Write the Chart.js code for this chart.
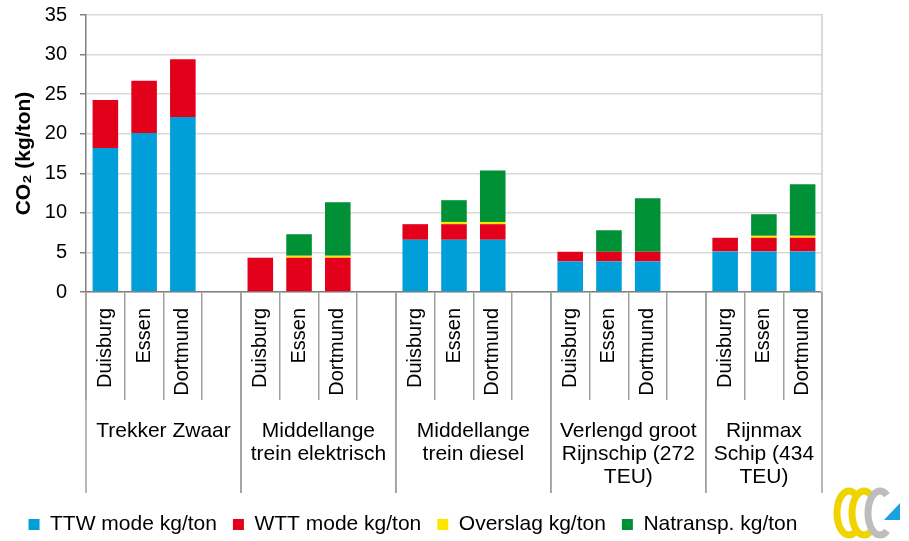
<!DOCTYPE html>
<html><head><meta charset="utf-8">
<script src="https://cdn.jsdelivr.net/npm/chart.js@4"></script>
<style>html,body{margin:0;padding:0;background:#fff}</style>
</head><body>
<canvas id="c" width="909" height="541"></canvas>
<script>
// ---- data ----
const categories = ['Duisburg','Essen','Dortmund','',
                    'Duisburg','Essen','Dortmund','',
                    'Duisburg','Essen','Dortmund','',
                    'Duisburg','Essen','Dortmund','',
                    'Duisburg','Essen','Dortmund'];
const groupLabels = [['Trekker Zwaar'],
                     ['Middellange','trein elektrisch'],
                     ['Middellange','trein diesel'],
                     ['Verlengd groot','Rijnschip (272','TEU)'],
                     ['Rijnmax','Schip (434','TEU)']];
const groupStart = [0,4,8,12,16];
const groupEnd   = [3,7,11,15,18];
const seriesNames = ['TTW mode kg/ton','WTT mode kg/ton','Overslag kg/ton','Natransp. kg/ton'];
const ttw      = [18.2,20.1,22.1,null, 0,0,0,null, 6.6,6.6,6.6,null, 3.87,3.87,3.87,null, 5.13,5.13,5.13];
const wtt      = [6.05,6.6,7.3,null, 4.33,4.33,4.33,null, 1.97,1.97,1.97,null, 1.21,1.21,1.21,null, 1.72,1.72,1.72];
const overslag = [0,0,0,null, 0,0.25,0.25,null, 0,0.28,0.28,null, 0,0,0,null, 0,0.25,0.25];
const natransp = [0,0,0,null, 0,2.72,6.77,null, 0,2.75,6.5,null, 0,2.72,6.77,null, 0,2.73,6.5];
const yMin = 0, yMax = 35, yStep = 5;
const colors = ['#009fda','#e2001a','#ffe600','#009036'];

const FONT = 'Liberation Sans, Arial, sans-serif';

const decor = {
  id: 'decor',
  beforeInit(chart) {
    const lg = chart.legend;
    if (lg) {
      const f = lg.fit;
      lg.fit = function() { f.call(this); this.height = 43; };
    }
  },
  afterDraw(chart) {
    const ctx = chart.ctx, ca = chart.chartArea, xs = chart.scales.x;
    const slot = xs.getPixelForValue(1) - xs.getPixelForValue(0);
    ctx.save();
    // right border
    ctx.strokeStyle = '#d9d9d9'; ctx.lineWidth = 2;
    ctx.beginPath(); ctx.moveTo(ca.right, ca.top - 1); ctx.lineTo(ca.right, ca.bottom); ctx.stroke();
    // city labels
    ctx.fillStyle = '#000';
    ctx.font = '20px ' + FONT;
    ctx.textAlign = 'right'; ctx.textBaseline = 'middle';
    categories.forEach((c, i) => {
      if (!c) return;
      ctx.save();
      ctx.translate(xs.getPixelForValue(i), ca.bottom + 16);
      ctx.rotate(-Math.PI / 2);
      ctx.fillText(c, 0, 0);
      ctx.restore();
    });
    // group separators and labels
    ctx.strokeStyle = '#a0a0a0'; ctx.lineWidth = 1.5;
    const bounds = [];
    groupStart.forEach((s, g) => {
      const l = xs.getPixelForValue(s) - slot / 2;
      const r = g === groupStart.length - 1 ? ca.right : xs.getPixelForValue(groupStart[g + 1]) - slot / 2;
      bounds.push(l, r);
      ctx.font = '21px ' + FONT;
      ctx.textAlign = 'center'; ctx.textBaseline = 'alphabetic';
      groupLabels[g].forEach((t, k) => ctx.fillText(t, (l + r) / 2, ca.bottom + 145 + 23 * k));
    });
    bounds.forEach(x => {
      ctx.beginPath(); ctx.moveTo(x, ca.bottom); ctx.lineTo(x, ca.bottom + 201); ctx.stroke();
    });
    // logo
    ctx.lineCap = 'butt';
    ctx.lineWidth = 7;
    ctx.strokeStyle = '#f0d400';
    ctx.beginPath(); ctx.ellipse(849, 513, 12, 22, 0, 0.3 * Math.PI, 1.7 * Math.PI); ctx.stroke();
    ctx.beginPath(); ctx.ellipse(864, 513, 12, 22, 0, 0.3 * Math.PI, 1.7 * Math.PI); ctx.stroke();
    ctx.strokeStyle = '#bdbdbd';
    ctx.beginPath(); ctx.ellipse(880, 513, 12, 22, 0, 0.3 * Math.PI, 1.7 * Math.PI); ctx.stroke();
    ctx.fillStyle = '#1ba0e0';
    ctx.beginPath(); ctx.moveTo(884, 520); ctx.lineTo(900, 520); ctx.lineTo(900, 503); ctx.closePath(); ctx.fill();
    ctx.restore();
  }
};

new Chart(document.getElementById('c'), {
  type: 'bar',
  data: {
    labels: categories,
    datasets: [ttw, wtt, overslag, natransp].map((d, i) => ({
      label: seriesNames[i], data: d, backgroundColor: colors[i], borderWidth: 0,
      barPercentage: 0.66, categoryPercentage: 1.0
    }))
  },
  options: {
    responsive: false, animation: false, devicePixelRatio: 1,
    layout: { padding: { left: 4, right: 87, top: 15, bottom: 0 } },
    plugins: {
      legend: {
        position: 'bottom',
        labels: { font: { family: FONT, size: 21 }, color: '#000', boxWidth: 11, boxHeight: 11, padding: 16 }
      },
      tooltip: { enabled: false }
    },
    scales: {
      x: {
        stacked: true,
        ticks: { display: false },
        grid: { display: true, drawOnChartArea: false, drawTicks: true, tickLength: 108, offset: true, color: '#a0a0a0', lineWidth: 1.5 },
        border: { color: '#808080', width: 1.5 },
        afterFit(s) { s.height = 206; }
      },
      y: {
        stacked: true, min: yMin, max: yMax,
        ticks: { stepSize: yStep, font: { family: FONT, size: 20 }, color: '#000', padding: 13 },
        grid: { color: '#d9d9d9', lineWidth: 1.5, tickColor: '#808080', tickLength: 6 },
        border: { color: '#808080', width: 1.5 },
        title: { display: true, text: 'CO₂ (kg/ton)', font: { family: FONT, size: 21, weight: 'bold' }, color: '#000', padding: { top: 8, bottom: 9 } },
        afterFit(s) { s.width = 82; s.paddingTop = 0; s.paddingBottom = 0; }
      }
    }
  },
  plugins: [decor]
});
</script>
</body></html>
